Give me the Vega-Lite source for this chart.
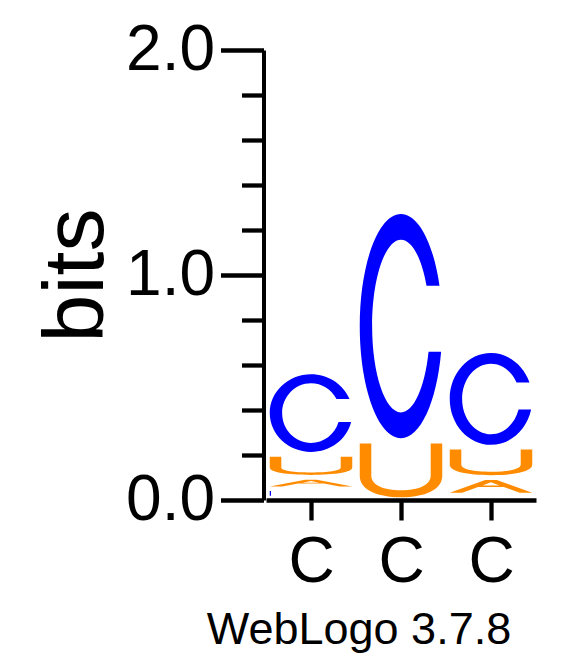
{
  "$schema": "https://vega.github.io/schema/vega-lite/v6.json",
  "width": 270,
  "height": 450,
  "autosize": {"type": "none"},
  "padding": {"left": 266, "top": 50, "right": 47, "bottom": 167},
  "background": "white",
  "config": {"view": {"stroke": null}, "font": "Liberation Sans"},
  "title": {
    "text": "WebLogo 3.7.8",
    "orient": "bottom",
    "anchor": "middle",
    "frame": "group",
    "dx": -42,
    "offset": 14,
    "fontSize": 45,
    "font": "Liberation Sans",
    "fontWeight": "normal",
    "color": "black"
  },
  "data": {
    "values": [
      {"position": 1, "letter": "G", "bits": 0.049},
      {"position": 1, "letter": "A", "bits": 0.052},
      {"position": 1, "letter": "U", "bits": 0.102},
      {"position": 1, "letter": "C", "bits": 0.367},
      {"position": 2, "letter": "U", "bits": 0.264},
      {"position": 2, "letter": "C", "bits": 1.018},
      {"position": 3, "letter": "A", "bits": 0.100},
      {"position": 3, "letter": "U", "bits": 0.135},
      {"position": 3, "letter": "C", "bits": 0.428}
    ]
  },
  "transform": [
    {"stack": "bits", "groupby": ["position"], "sort": [{"field": "bits", "order": "ascending"}], "as": ["b0", "b1"]},
    {"calculate": "(datum.b0 + datum.b1) / 2", "as": "mid"},
    {"calculate": "datum.position + datum.letter", "as": "glyph"}
  ],
  "mark": {"type": "point", "filled": true, "opacity": 1, "size": 6806, "strokeWidth": 0},
  "encoding": {
    "x": {
      "field": "position",
      "type": "quantitative",
      "scale": {"domain": [0.5, 3.5], "nice": false, "zero": false},
      "axis": {
        "values": [1, 2, 3],
        "labelExpr": "'C'",
        "title": null,
        "grid": false,
        "domainColor": "black",
        "domainWidth": 4.5,
        "tickColor": "black",
        "tickWidth": 4.3,
        "tickSize": 20,
        "labelFontSize": 64,
        "labelFont": "Liberation Sans",
        "labelColor": "black",
        "labelPadding": 10,
        "labelFlush": false,
        "labelOverlap": false,
        "labelBound": false
      }
    },
    "y": {
      "field": "mid",
      "type": "quantitative",
      "scale": {"domain": [0, 2], "nice": false, "zero": true},
      "axis": {
        "values": [0, 0.2, 0.4, 0.6, 0.8, 1, 1.2, 1.4, 1.6, 1.8, 2],
        "labelExpr": "datum.value % 1 === 0 ? format(datum.value, '.1f') : ''",
        "title": "bits",
        "titleFontSize": 86,
        "titleFont": "Liberation Sans",
        "titleFontWeight": "normal",
        "titleColor": "black",
        "titlePadding": 5,
        "grid": false,
        "offset": 2.5,
        "domainColor": "black",
        "domainWidth": 4,
        "tickColor": "black",
        "tickWidth": 4.3,
        "tickSize": {"condition": {"test": "datum.value % 1 === 0", "value": 43}, "value": 22},
        "labelFontSize": 64,
        "labelFont": "Liberation Sans",
        "labelColor": "black",
        "labelPadding": 6,
        "labelOverlap": false,
        "labelBound": false,
        "labelFlush": false
      }
    },
    "shape": {
      "field": "glyph",
      "type": "nominal",
      "legend": null,
      "scale": {
        "domain": ["1G", "1A", "1U", "1C", "2U", "2C", "3A", "3U", "3C"],
        "range": [
          "M -1 -0.085 L -0.97 -0.085 L -0.97 0.029 L -1 0.029 Z",
          "M -1 0.081 L -0.14 -0.081 L 0.14 -0.081 L 1 0.081 L 0.7 0.081 L 0.313 0.008 L -0.313 0.008 L -0.7 0.081 Z M -0.206 -0.012 L 0.206 -0.012 L 0 -0.051 Z",
          "M -1 -0.222 L -0.72 -0.222 L -0.72 0.044 C -0.72 0.122 -0.42 0.164 0 0.164 C 0.42 0.164 0.72 0.122 0.72 0.044 L 0.72 -0.222 L 1 -0.222 L 1 0.044 C 1 0.16 0.58 0.222 0 0.222 C -0.58 0.222 -1 0.16 -1 0.044 Z",
          "M 0.933 -0.339 C 0.784 -0.703 0.413 -0.942 0 -0.942 C -0.552 -0.942 -1 -0.52 -1 0 C -1 0.52 -0.552 0.942 0 0.942 C 0.464 0.942 0.866 0.642 0.973 0.217 L 0.668 0.217 C 0.577 0.519 0.306 0.725 0 0.725 C -0.387 0.725 -0.7 0.4 -0.7 0 C -0.7 -0.4 -0.387 -0.725 0 -0.725 C 0.259 -0.725 0.498 -0.577 0.619 -0.339 Z",
          "M -1 -0.651 L -0.72 -0.651 L -0.72 0.13 C -0.72 0.358 -0.42 0.482 0 0.482 C 0.42 0.482 0.72 0.358 0.72 0.13 L 0.72 -0.651 L 1 -0.651 L 1 0.13 C 1 0.469 0.58 0.651 0 0.651 C -0.58 0.651 -1 0.469 -1 0.13 Z",
          "M 0.933 -0.979 C 0.784 -2.028 0.413 -2.719 0 -2.719 C -0.552 -2.719 -1 -1.501 -1 0 C -1 1.501 -0.552 2.719 0 2.719 C 0.464 2.719 0.866 1.852 0.973 0.625 L 0.668 0.625 C 0.577 1.498 0.306 2.094 0 2.094 C -0.387 2.094 -0.7 1.156 -0.7 0 C -0.7 -1.156 -0.387 -2.094 0 -2.094 C 0.259 -2.094 0.498 -1.664 0.619 -0.979 Z",
          "M -1 0.096 L -0.14 -0.212 L 0.14 -0.212 L 1 0.096 L 0.7 0.096 L 0.313 -0.043 L -0.313 -0.043 L -0.7 0.096 Z M -0.206 -0.081 L 0.206 -0.081 L 0 -0.155 Z",
          "M -1 -0.312 L -0.72 -0.312 L -0.72 0.062 C -0.72 0.171 -0.42 0.231 0 0.231 C 0.42 0.231 0.72 0.171 0.72 0.062 L 0.72 -0.312 L 1 -0.312 L 1 0.062 C 1 0.224 0.58 0.312 0 0.312 C -0.58 0.312 -1 0.224 -1 0.062 Z",
          "M 0.933 -0.4 C 0.784 -0.829 0.413 -1.112 0 -1.112 C -0.552 -1.112 -1 -0.614 -1 0 C -1 0.614 -0.552 1.112 0 1.112 C 0.464 1.112 0.866 0.757 0.973 0.256 L 0.668 0.256 C 0.577 0.612 0.306 0.856 0 0.856 C -0.387 0.856 -0.7 0.472 -0.7 0 C -0.7 -0.472 -0.387 -0.856 0 -0.856 C 0.259 -0.856 0.498 -0.68 0.619 -0.4 Z"
        ]
      }
    },
    "color": {
      "field": "letter",
      "type": "nominal",
      "legend": null,
      "scale": {"domain": ["A", "C", "G", "U"], "range": ["#ff8c00", "#0000ff", "#0000ff", "#ff8c00"]}
    }
  }
}
